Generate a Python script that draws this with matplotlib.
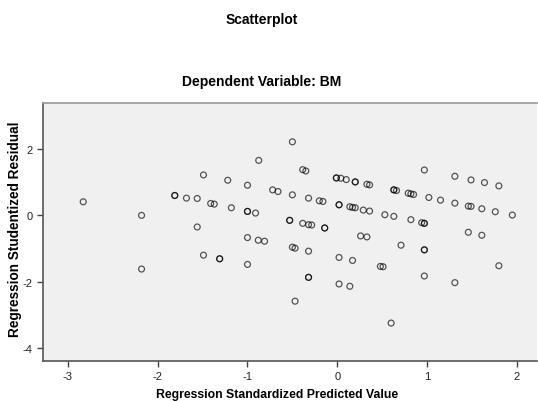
import numpy as np
import matplotlib
matplotlib.use("Agg")
import matplotlib.pyplot as plt

plt.rcParams['font.family'] = ['Liberation Sans', 'DejaVu Sans']
plt.rcParams['axes.unicode_minus'] = False

# standardized predicted value (x) and studentized residual (y)
pred = [-2.83, -2.18, -2.18, -1.81, -1.81, -1.68, -1.56, -1.49, -1.22, -1.00,
        -0.875, -0.50, -0.385, -0.35, -0.01, -0.01, 0.04, 0.10, 0.20, 0.20,
        -0.72, -0.66, -0.50, -0.32, -0.20, -0.16, 0.02, 0.02, 0.14, 0.17,
        0.20, -1.41, -1.37, -1.18, -1.00, -1.00, -0.91, -0.53, -0.53, -0.385,
        -0.32, -0.285, -0.14, -0.14, -1.56, -1.00, -0.88, -0.81, -0.50, -0.47,
        -0.32, 0.02, 0.17, -1.49, -1.31, -1.31, -1.00, -0.32, -0.32, 0.02,
        0.14, -0.47, 0.33, 0.36, 0.63, 0.63, 0.66, 0.79, 0.82, 0.85,
        0.97, 1.02, 1.15, 1.31, 1.31, 1.46, 1.49, 1.49, 1.61, 1.64,
        1.76, 1.80, 1.95, 0.29, 0.36, 0.53, 0.63, 0.82, 0.94, 0.97,
        0.97, 1.46, 1.61, 0.26, 0.33, 0.71, 0.97, 0.97, 0.48, 0.51,
        1.80, 0.97, 1.31, 0.60]
resid = [0.41, 0.00, -1.62, 0.60, 0.60, 0.52, 0.51, 1.22, 1.06, 0.91,
         1.66, 2.22, 1.38, 1.34, 1.13, 1.13, 1.12, 1.08, 1.01, 1.01,
         0.77, 0.72, 0.62, 0.52, 0.44, 0.42, 0.32, 0.32, 0.26, 0.24,
         0.23, 0.36, 0.34, 0.23, 0.12, 0.12, 0.07, -0.15, -0.15, -0.24,
         -0.28, -0.29, -0.38, -0.38, -0.35, -0.67, -0.75, -0.78, -0.96, -0.99,
         -1.08, -1.27, -1.36, -1.20, -1.31, -1.31, -1.48, -1.87, -1.87, -2.07,
         -2.14, -2.59, 0.94, 0.92, 0.77, 0.77, 0.75, 0.67, 0.65, 0.63,
         1.37, 0.54, 0.46, 1.18, 0.37, 0.28, 0.27, 1.07, 0.20, 0.99,
         0.11, 0.89, 0.01, 0.16, 0.13, 0.02, -0.03, -0.13, -0.22, -0.24,
         -0.24, -0.51, -0.60, -0.62, -0.65, -0.90, -1.04, -1.04, -1.54, -1.55,
         -1.52, -1.83, -2.03, -3.25]

xticks = [-3, -2, -1, 0, 1, 2]
yticks = [-4, -2, 0, 2]

fig = plt.figure(figsize=(5.38, 4.02), dpi=100)
ax = fig.add_axes([0.0794, 0.0995, 0.9186, 0.6415])
ax.set_facecolor('#f0f0f0')

ax.scatter(pred, resid, s=18, facecolors='none', edgecolors='black',
           linewidths=0.9, alpha=0.65)

ax.set_xlim(-3.281, 2.224)
ax.set_ylim(-4.395, 3.388)
ax.set_xticks(xticks)
ax.set_yticks(yticks)
ax.tick_params(direction='out', length=4, width=1, colors='#444444',
               labelsize=8, labelcolor='#222222')

for side in ['left', 'bottom']:
    ax.spines[side].set_color('#555555')
    ax.spines[side].set_linewidth(1.2)
ax.spines['top'].set_color('#999999')
ax.spines['top'].set_linewidth(1.2)
ax.spines['right'].set_visible(False)

fig.text(0.487, 0.950, 'Scatterplot', ha='center', va='center',
         fontsize=10, fontweight='bold')
fig.text(0.487, 0.796, 'Dependent Variable: BM', ha='center', va='center',
         fontsize=10, fontweight='bold')
fig.text(0.515, 0.018, 'Regression Standardized Predicted Value',
         ha='center', va='center', fontsize=8.8, fontweight='bold')
fig.text(0.028, 0.43, 'Regression Studentized Residual', ha='center',
         va='center', rotation=90, fontsize=9.8, fontweight='bold')

fig.savefig('out.png', dpi=100)
